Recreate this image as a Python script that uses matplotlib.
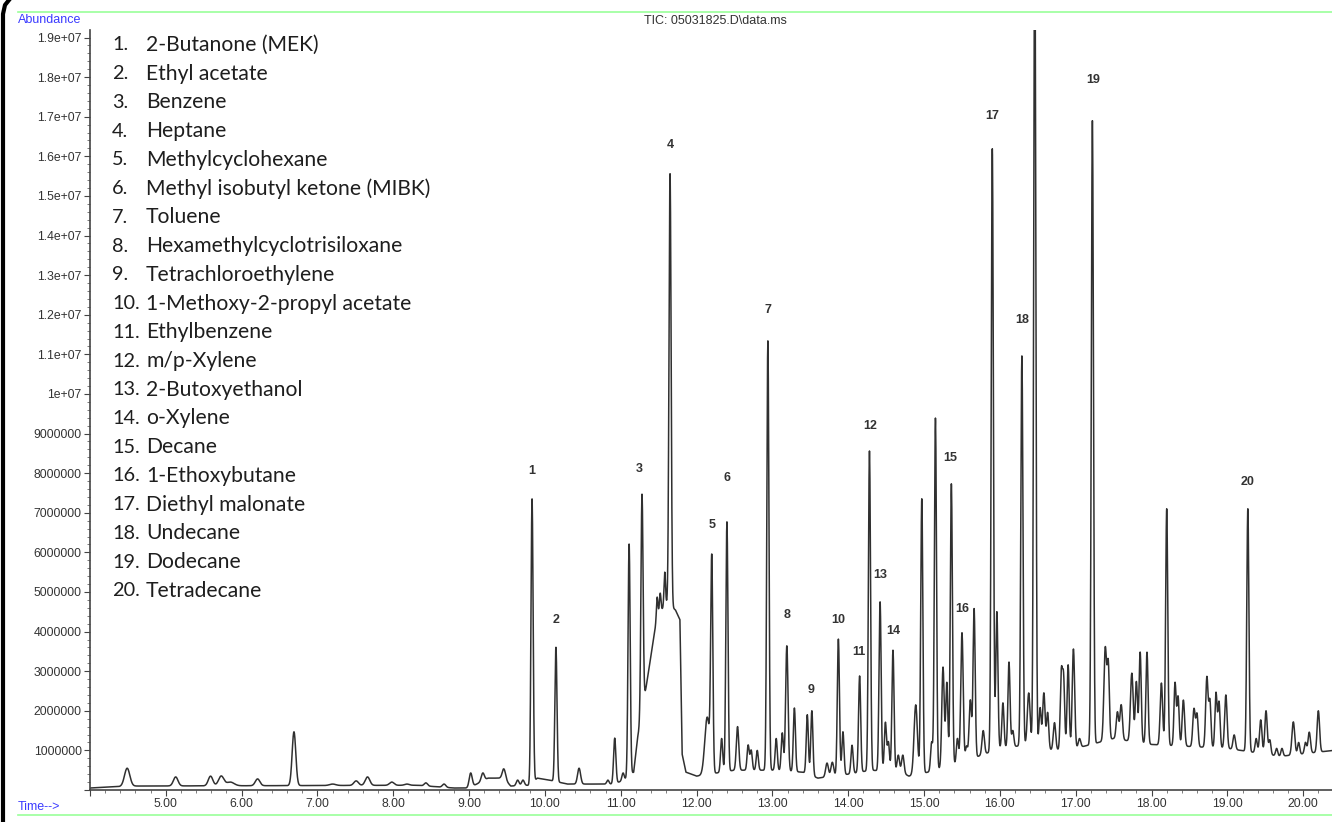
import matplotlib
matplotlib.use('Agg')
import matplotlib.pyplot as plt
from matplotlib.ticker import MultipleLocator, FuncFormatter
from matplotlib.lines import Line2D
import numpy as np

##################################################################
# data (time in min, abundance in 1e6 counts)

base_t = [4.0, 4.3, 4.6, 8.3, 8.8, 9.0, 9.25, 9.45, 9.55, 9.8, 9.9, 10.05, 10.3, 10.9,
          11.05, 11.17, 11.22, 11.31, 11.48, 11.60, 11.72, 11.78, 11.81, 11.86, 12.0,
          12.5, 13.0, 13.4, 13.6, 14.0, 14.3, 14.7, 14.8, 15.05, 15.5, 16.0, 16.4,
          16.7, 17.0, 17.5, 18.0, 18.5, 19.0, 19.7, 20.4]
base_a = [0.05, 0.08, 0.1, 0.12, 0.05, 0.05, 0.3, 0.3, 0.1, 0.12, 0.3, 0.25, 0.15, 0.15,
          0.25, 0.45, 1.3, 2.3, 4.4, 4.7, 4.55, 4.3, 0.9, 0.45, 0.35,
          0.5, 0.5, 0.45, 0.3, 0.4, 0.5, 0.45, 0.35, 0.45, 0.7, 1.05, 1.15,
          1.0, 1.05, 1.3, 1.15, 1.1, 1.05, 0.85, 1.0]

peak_t = [4.49, 5.13, 5.59, 5.73, 5.85, 6.21, 6.69, 7.20, 7.51, 7.66, 7.98, 8.18, 8.43, 8.67,
          9.02, 9.18, 9.46, 9.64, 9.71, 9.83, 10.145, 10.45, 10.83, 10.92, 11.03, 11.11,
          11.28, 11.48, 11.52, 11.58, 11.65, 12.14, 12.20, 12.33, 12.40, 12.54, 12.68,
          12.72, 12.80, 12.94, 13.05, 13.13, 13.19, 13.29, 13.46, 13.52, 13.72, 13.79,
          13.87, 13.93, 14.05, 14.15, 14.28, 14.42, 14.49, 14.53, 14.59, 14.66, 14.72,
          14.89, 14.97, 15.10, 15.15, 15.25, 15.30, 15.36, 15.44, 15.50, 15.56, 15.61,
          15.66, 15.78, 15.90, 15.96, 16.04, 16.12, 16.17, 16.29, 16.38, 16.46, 16.53,
          16.58, 16.63, 16.72, 16.81, 16.84, 16.90, 16.97, 17.05, 17.22, 17.39, 17.43,
          17.55, 17.60, 17.74, 17.80, 17.85, 17.94, 18.13, 18.20, 18.31, 18.35, 18.42,
          18.56, 18.60, 18.73, 18.77, 18.85, 18.89, 18.98, 19.09, 19.27, 19.38, 19.44,
          19.51, 19.56, 19.65, 19.72, 19.87, 19.94, 20.03, 20.08, 20.20]
peak_a = [0.55, 0.33, 0.35, 0.35, 0.2, 0.28, 1.47, 0.15, 0.23, 0.33, 0.2, 0.15, 0.18, 0.15,
          0.43, 0.43, 0.53, 0.25, 0.25, 7.35, 3.61, 0.55, 0.25, 1.31, 0.43, 6.21,
          7.47, 4.87, 4.97, 5.5, 15.56, 1.84, 5.71, 1.3, 6.77, 1.6, 1.13,
          1.0, 1.0, 11.34, 1.3, 1.44, 3.64, 2.07, 1.9, 2.0, 0.68, 0.7,
          3.81, 1.47, 1.13, 2.88, 8.56, 4.75, 1.7, 1.2, 3.53, 0.88, 0.88,
          2.15, 7.35, 1.2, 9.39, 3.1, 2.7, 7.73, 1.3, 3.97, 1.1, 2.27,
          4.57, 1.5, 16.19, 4.5, 2.2, 3.23, 1.5, 10.96, 2.45, 22.0, 2.07,
          2.45, 1.95, 1.7, 2.9, 2.78, 3.16, 3.56, 1.3, 16.9, 3.59, 3.08,
          1.97, 2.15, 2.95, 2.73, 3.48, 3.48, 2.7, 7.1, 2.7, 2.35, 2.27,
          2.05, 1.9, 2.85, 2.22, 2.45, 2.22, 2.4, 1.39, 7.1, 1.3, 1.77,
          2.0, 1.26, 1.05, 1.05, 1.72, 1.2, 1.2, 1.46, 2.0]
peak_w = [0.035, 0.03, 0.03, 0.035, 0.05, 0.03, 0.024, 0.04, 0.03, 0.03, 0.03, 0.03, 0.022, 0.022,
          0.02, 0.02, 0.022, 0.018, 0.018, 0.014, 0.014, 0.02, 0.015, 0.015, 0.015, 0.014,
          0.014, 0.01, 0.01, 0.01, 0.014, 0.032, 0.014, 0.014, 0.014, 0.016, 0.014,
          0.014, 0.014, 0.014, 0.014, 0.014, 0.016, 0.014, 0.014, 0.014, 0.018, 0.018,
          0.014, 0.014, 0.014, 0.014, 0.014, 0.014, 0.014, 0.014, 0.014, 0.016, 0.016,
          0.022, 0.014, 0.014, 0.014, 0.016, 0.014, 0.014, 0.014, 0.016, 0.014, 0.016,
          0.014, 0.016, 0.014, 0.014, 0.014, 0.014, 0.014, 0.014, 0.018, 0.014, 0.014,
          0.016, 0.014, 0.016, 0.014, 0.014, 0.014, 0.016, 0.016, 0.014, 0.018, 0.014,
          0.016, 0.016, 0.018, 0.014, 0.014, 0.014, 0.016, 0.014, 0.014, 0.014, 0.016,
          0.016, 0.014, 0.016, 0.014, 0.014, 0.014, 0.016, 0.016, 0.014, 0.014, 0.016,
          0.016, 0.014, 0.014, 0.014, 0.018, 0.014, 0.014, 0.016, 0.016]

# numbered peak labels (label position in time / abundance 1e6)
label_txt = [str(i) for i in range(1, 21)]
label_t = [9.83, 10.145, 11.24, 11.65, 12.20, 12.40, 12.94, 13.19, 13.51, 13.87,
           14.14, 14.29, 14.42, 14.59, 15.34, 15.50, 15.90, 16.29, 17.23, 19.27]
label_a = [8.06, 4.29, 8.11, 16.29, 6.69, 7.88, 12.12, 4.42, 2.53, 4.29,
           3.48, 9.19, 5.43, 4.02, 8.38, 4.57, 17.02, 11.87, 17.93, 7.78]

compounds = ['2-Butanone (MEK)', 'Ethyl acetate', 'Benzene', 'Heptane', 'Methylcyclohexane',
             'Methyl isobutyl ketone (MIBK)', 'Toluene', 'Hexamethylcyclotrisiloxane',
             'Tetrachloroethylene', '1-Methoxy-2-propyl acetate', 'Ethylbenzene',
             'm/p-Xylene', '2-Butoxyethanol', 'o-Xylene', 'Decane', '1-Ethoxybutane',
             'Diethyl malonate', 'Undecane', 'Dodecane', 'Tetradecane']

##################################################################

W, H = 1332, 822
fig = plt.figure(figsize=(W / 100, H / 100), dpi=100)
fig.patch.set_facecolor('white')

def fx(px):
	return px / W

def fy(py):
	return 1 - py / H

ax = fig.add_axes([fx(90), fy(790), fx(1332) - fx(90), fy(30) - fy(790)])

# build the trace: baseline plus the peaks
t = np.arange(4.0, 20.45, 0.002)
trace = np.interp(t, base_t, base_a)
for pt, pa, pw in zip(peak_t, peak_a, peak_w):
	h = pa - np.interp(pt, base_t, base_a)
	trace = trace + h * np.exp(-0.5 * ((t - pt) / pw) ** 2)

ax.plot(t, trace * 1e6, color='#303030', lw=1.1)

ax.set_xlim(4.0, 20.38)
ax.set_ylim(0, 19.19e6)

for s in ['top', 'right']:
	ax.spines[s].set_visible(False)
for s in ['left', 'bottom']:
	ax.spines[s].set_color('#444444')
	ax.spines[s].set_linewidth(1.2)

ax.xaxis.set_major_locator(MultipleLocator(1.0))
ax.xaxis.set_minor_locator(MultipleLocator(0.2))
ax.yaxis.set_major_locator(MultipleLocator(1e6))
ax.yaxis.set_minor_locator(MultipleLocator(2e5))

def yfmt(v, pos):
	if v <= 0:
		return ''
	if v >= 1e7:
		return '{:g}'.format(v)
	return '{:d}'.format(int(round(v)))

ax.yaxis.set_major_formatter(FuncFormatter(yfmt))
ax.xaxis.set_major_formatter(FuncFormatter(lambda v, p: '' if v < 4.5 else '{:.2f}'.format(v)))

ax.tick_params(axis='both', which='major', length=4, width=0.8, color='#444444',
	labelcolor='#333333', labelsize=8.8, pad=2)
ax.tick_params(axis='both', which='minor', length=2.5, width=0.6, color='#666666')
for lab in ax.get_xticklabels() + ax.get_yticklabels():
	lab.set_family('Liberation Sans')

# peak numbers
for txt, lt, la in zip(label_txt, label_t, label_a):
	ax.text(lt, la * 1e6, txt, ha='center', va='center', fontsize=9, fontweight='bold',
		family='Liberation Sans', color='#333333')

# compound list
for i, name in enumerate(compounds):
	yy = fy(45 + i * 28.73)
	fig.text(fx(112), yy, '{}.'.format(i + 1), ha='left', va='center', fontsize=14.3,
		family='Lato', color='#1e1e1e')
	fig.text(fx(146), yy, name, ha='left', va='center', fontsize=15.2,
		family='Lato', color='#1e1e1e')

# header / footer
fig.text(fx(18), fy(20), 'Abundance', ha='left', va='center', fontsize=9,
	family='Liberation Sans', color='#3a3aff')
fig.text(fx(18), fy(807), 'Time-->', ha='left', va='center', fontsize=9,
	family='Liberation Sans', color='#3a3aff')
fig.text(fx(715), fy(21), 'TIC: 05031825.D\\data.ms', ha='center', va='center', fontsize=9,
	family='Liberation Sans', color='#333333')

# green frame lines and black left border
fig.add_artist(Line2D([fx(18), 1], [fy(12), fy(12)], color='#99ff99', lw=1.2))
fig.add_artist(Line2D([fx(18), 1], [fy(815), fy(815)], color='#99ff99', lw=1.2))
fig.add_artist(Line2D([fx(3), fx(3), fx(5), fx(9)], [0, fy(14), fy(5), fy(0)],
	color='black', lw=3))

plt.savefig('out.png', dpi=100)
